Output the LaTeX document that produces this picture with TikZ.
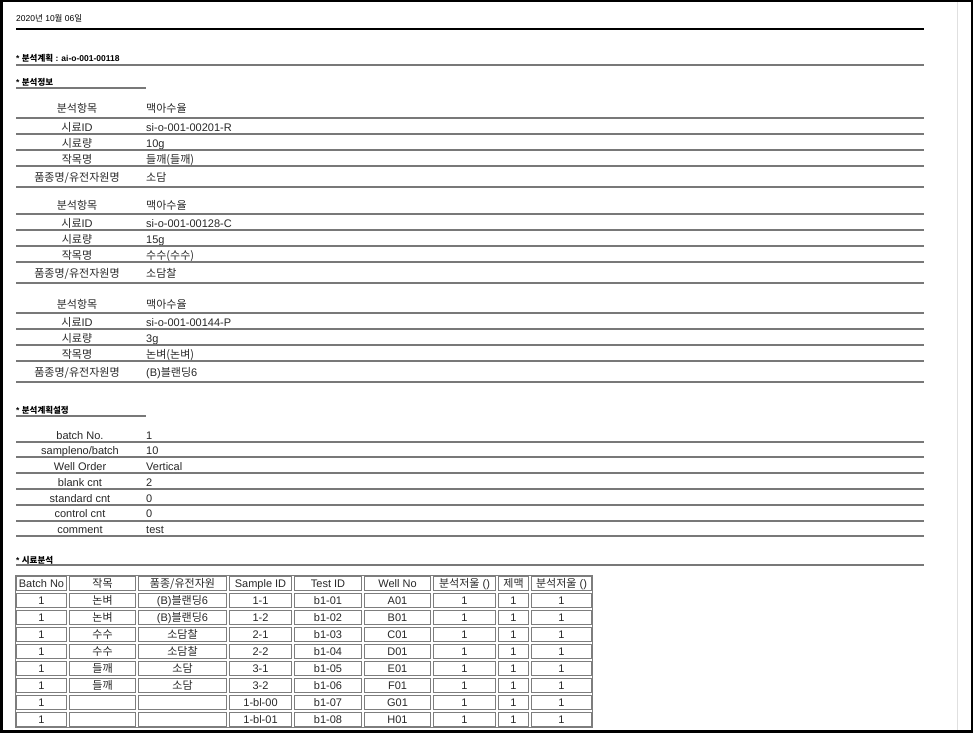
\documentclass[tikz,border=0pt]{standalone}
\usepackage{fontspec}
\setmainfont{Liberation Sans}
\newfontfamily\kr{Noto Sans CJK KR}
\definecolor{txt}{RGB}{40,40,40}
\definecolor{rulec}{RGB}{120,120,120}
\definecolor{tblc}{RGB}{125,125,125}
\definecolor{sidec}{RGB}{224,224,224}
\begin{document}
\begin{tikzpicture}[x=1pt,y=-1pt,
  body/.style={font=\fontsize{11}{13}\selectfont, text=txt, inner sep=0pt},
  lab/.style={body, anchor=base},
  val/.style={body, anchor=base west},
  head/.style={font=\fontsize{8.5}{10}\selectfont\bfseries, text=black, inner sep=0pt, anchor=base west},
  datef/.style={font=\fontsize{8.5}{10}\selectfont, text=black, inner sep=0pt, anchor=base west},
  rowline/.style={draw=rulec, line width=2pt},
  cell/.style={body, anchor=base},
  cellbox/.style={draw=tblc, line width=1pt}]
\useasboundingbox (0,0) rectangle (973,733);
\fill[white] (0,0) rectangle (973,733);
% page frame
\draw[sidec, line width=1.5pt] (957.5,0) -- (957.5,733);
\draw[black, line width=2.5pt] (1.25,1.25) rectangle (971.75,731.5);

% date header
\node[datef] (date) at (16,22) {2020{\kr 년} 10{\kr 월} 06{\kr 일}};
\draw[black, line width=2pt] (16,29.5) -- (924,29.5);

% plan heading
\node[head] (plan) at (16,62) {* {\kr 분석계획} : ai-o-001-00118};
\draw[rowline] (16,65) -- (924,65);

% info heading
\node[head] (info) at (16,86) {* {\kr 분석정보}};
\draw[rowline] (16,88) -- (146,88);

% info blocks
\foreach \b/\Lb/\sid/\amt/\crop/\var in {
  1/118/si-o-001-00201-R/10g/{\kr 들깨(들깨)}/{\kr 소담},
  2/214/si-o-001-00128-C/15g/{\kr 수수(수수)}/{\kr 소담찰},
  3/313/si-o-001-00144-P/3g/{\kr 논벼(논벼)}/(B){\kr 블랜딩}6}{
  \node[lab] (b\b l1) at (77,\Lb-5) {\kr 분석항목};
  \node[val] (b\b v1) at (146,\Lb-5) {\kr 맥아수율};
  \node[lab] (b\b l2) at (77,\Lb+13) {{\kr 시료}ID};
  \node[val] (b\b v2) at (146,\Lb+13) {\sid};
  \node[lab] (b\b l3) at (77,\Lb+29) {\kr 시료량};
  \node[val] (b\b v3) at (146,\Lb+29) {\amt};
  \node[lab] (b\b l4) at (77,\Lb+45) {\kr 작목명};
  \node[val] (b\b v4) at (146,\Lb+45) {\crop};
  \node[lab] (b\b l5) at (77,\Lb+63) {\kr 품종명/유전자원명};
  \node[val] (b\b v5) at (146,\Lb+63) {\var};
  \foreach \dy in {0,16,32,48,69}
    \draw[rowline] (16,\Lb+\dy) -- (924,\Lb+\dy);
}

% plan settings heading
\node[head] (set) at (16,413) {* {\kr 분석계획설정}};
\draw[rowline] (16,416) -- (146,416);

\node[lab] (s1l) at (80,439) {batch No.};      \node[val] (s1v) at (146,439) {1};
\node[lab] (s2l) at (80,454.75) {sampleno/batch}; \node[val] (s2v) at (146,454.75) {10};
\node[lab] (s3l) at (80,470.5) {Well Order};    \node[val] (s3v) at (146,470.5) {Vertical};
\node[lab] (s4l) at (80,486.25) {blank cnt};    \node[val] (s4v) at (146,486.25) {2};
\node[lab] (s5l) at (80,502) {standard cnt};    \node[val] (s5v) at (146,502) {0};
\node[lab] (s6l) at (80,517.75) {control cnt};  \node[val] (s6v) at (146,517.75) {0};
\node[lab] (s7l) at (80,533.5) {comment};       \node[val] (s7v) at (146,533.5) {test};
\foreach \yy in {442,457,473,489,505,521,536}
  \draw[rowline] (16,\yy) -- (924,\yy);

% sample analysis heading
\node[head] (samp) at (16,563) {* {\kr 시료분석}};
\draw[rowline] (16,565) -- (924,565);

% table grid
\draw[cellbox] (15.5,575.5) rectangle (592.5,727.5);
\foreach \xa/\xb in {15/68,68/137,137/228,228/293,293/363,363/432,432/497,497/530,530/593}
  \foreach \r in {0,...,8}
    \draw[cellbox] (\xa+1.5,575+17*\r+1.5) rectangle (\xb-1.5,575+17*\r+15.5);

% header row
\node[cell] (h1) at (41.5,587.5) {Batch No};
\node[cell] (h2) at (102.5,587.5) {\kr 작목};
\node[cell] (h3) at (182.5,587.5) {\kr 품종/유전자원};
\node[cell] (h4) at (260.5,587.5) {Sample ID};
\node[cell] (h5) at (328,587.5) {Test ID};
\node[cell] (h6) at (397.5,587.5) {Well No};
\node[cell] (h7) at (464.5,587.5) {{\kr 분석저울} ()};
\node[cell] (h8) at (513.5,587.5) {\kr 제맥};
\node[cell] (h9) at (561.5,587.5) {{\kr 분석저울} ()};

% data rows
\foreach \r/\a/\bb/\c/\d/\e in {
  1/{\kr 논벼}/(B){\kr 블랜딩}6/1-1/b1-01/A01,
  2/{\kr 논벼}/(B){\kr 블랜딩}6/1-2/b1-02/B01,
  3/{\kr 수수}/{\kr 소담찰}/2-1/b1-03/C01,
  4/{\kr 수수}/{\kr 소담찰}/2-2/b1-04/D01,
  5/{\kr 들깨}/{\kr 소담}/3-1/b1-05/E01,
  6/{\kr 들깨}/{\kr 소담}/3-2/b1-06/F01,
  7/{}/{}/1-bl-00/b1-07/G01,
  8/{}/{}/1-bl-01/b1-08/H01}{
  \node[cell] (r\r-1) at (41.5,587.5+17*\r) {1};
  \node[cell] (r\r-2) at (102.5,587.5+17*\r) {\a};
  \node[cell] (r\r-3) at (182.5,587.5+17*\r) {\bb};
  \node[cell] (r\r-4) at (260.5,587.5+17*\r) {\c};
  \node[cell] (r\r-5) at (328,587.5+17*\r) {\d};
  \node[cell] (r\r-6) at (397.5,587.5+17*\r) {\e};
  \node[cell] (r\r-7) at (464.5,587.5+17*\r) {1};
  \node[cell] (r\r-8) at (513.5,587.5+17*\r) {1};
  \node[cell] (r\r-9) at (561.5,587.5+17*\r) {1};
}
\end{tikzpicture}
\end{document}
